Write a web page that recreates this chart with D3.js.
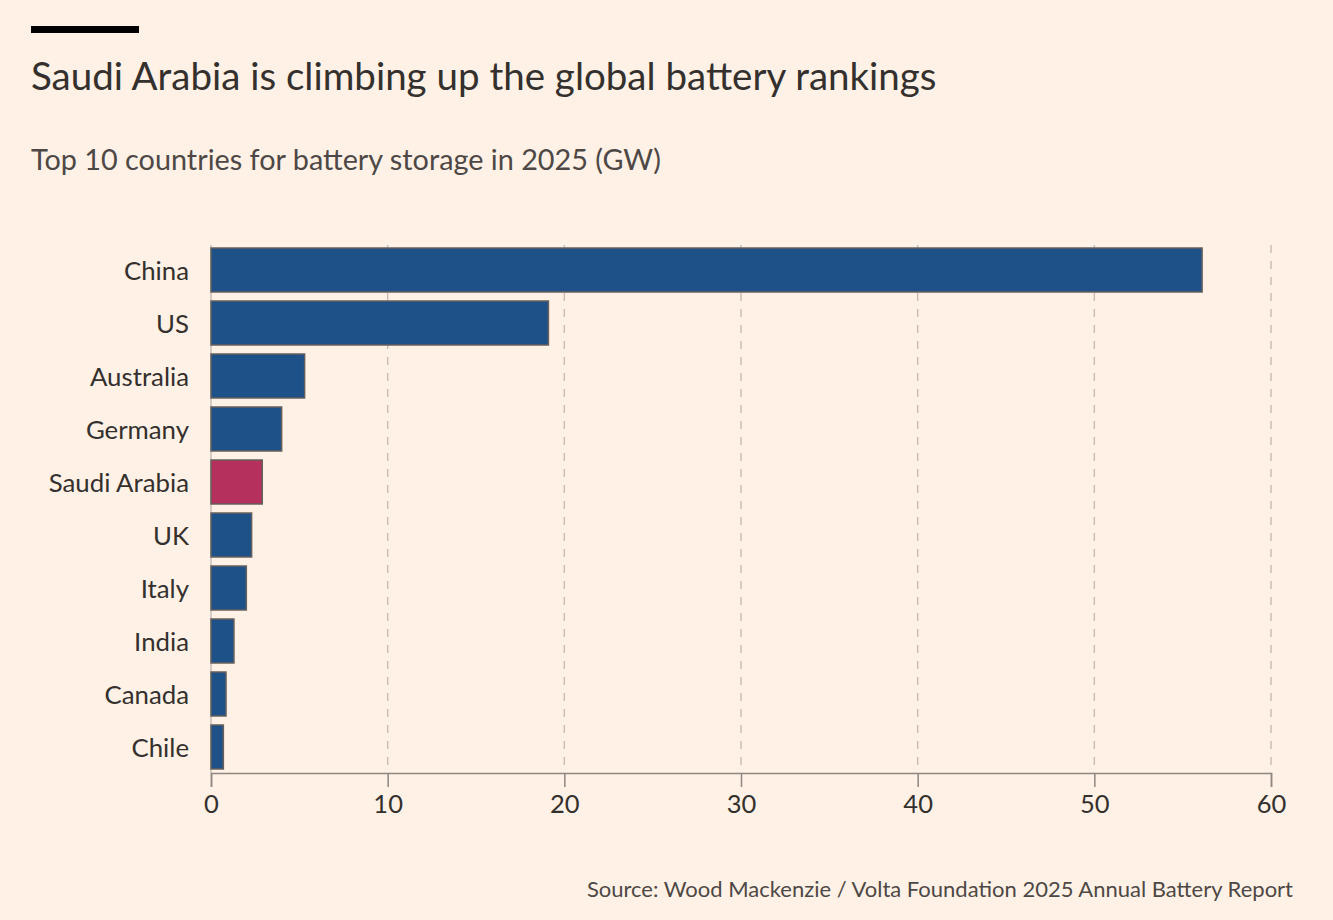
<!DOCTYPE html>
<html><head><meta charset="utf-8">
<script src="https://cdn.jsdelivr.net/npm/d3@7"></script>
<style>
html,body{margin:0;padding:0;background:#FFF1E5;}
svg{display:block;}
text{font-family:Lato,"Open Sans",sans-serif;}
</style></head>
<body><svg id="chart" width="1333" height="920"></svg>
<script>
const countries = ["China","US","Australia","Germany","Saudi Arabia","UK","Italy","India","Canada","Chile"];
const values = [56.1, 19.1, 5.3, 4.0, 2.9, 2.3, 2.0, 1.3, 0.85, 0.7];
const highlight = "Saudi Arabia";
const xTicks = [0,10,20,30,40,50,60];
const titleText = "Saudi Arabia is climbing up the global battery rankings";
const subtitleText = "Top 10 countries for battery storage in 2025 (GW)";
const sourceText = "Source: Wood Mackenzie / Volta Foundation 2025 Annual Battery Report";

const svg = d3.select("#chart");
svg.append("rect").attr("width",1333).attr("height",920).attr("fill","#FFF1E5");

svg.append("rect").attr("x",31).attr("y",26).attr("width",108).attr("height",7).attr("fill","#000");
svg.append("text").attr("x",31).attr("y",90).attr("font-size",38.5).attr("fill","#33302e").text(titleText);
svg.append("text").attr("x",31).attr("y",170).attr("font-size",28.8).attr("fill","#4d4845").text(subtitleText);
svg.append("text").attr("x",1293).attr("y",897).attr("text-anchor","end").attr("font-size",22).attr("fill","#4d4845").text(sourceText);

const x = d3.scaleLinear().domain([0,60]).range([211,1271]);
const y = d3.scaleBand().domain(countries).range([243.5,773.5]).paddingInner(0.17).paddingOuter(0.085);

// grid
svg.append("g").selectAll("line").data(xTicks.filter(d=>d>0)).join("line")
  .attr("x1",d=>x(d)).attr("x2",d=>x(d)).attr("y1",245).attr("y2",773)
  .attr("stroke","#c9bfb6").attr("stroke-width",1.5).attr("stroke-dasharray","8,8");
svg.append("line").attr("x1",x(0)).attr("x2",x(0)).attr("y1",245).attr("y2",773)
  .attr("stroke","#c9bfb6").attr("stroke-width",1.5);

// bars
svg.append("g").selectAll("rect").data(countries).join("rect")
  .attr("x",x(0)).attr("y",d=>y(d))
  .attr("width",(d,i)=>x(values[i])-x(0)).attr("height",y.bandwidth())
  .attr("fill",d=>d===highlight?"#B5305C":"#1F5189")
  .attr("stroke","#66605c").attr("stroke-width",1.5);

// y labels
svg.append("g").selectAll("text").data(countries).join("text")
  .attr("x",189).attr("y",d=>y(d)+y.bandwidth()/2+1).attr("dy","0.36em")
  .attr("text-anchor","end").attr("font-size",25.8).attr("fill","#33302e").text(d=>d);

// x axis
const xAxis = d3.axisBottom(x).tickValues(xTicks).tickSize(14).tickPadding(8);
const ga = svg.append("g").attr("transform","translate(0,773)").call(xAxis);
ga.select(".domain").attr("stroke","#8f8681").attr("stroke-width",1.5);
ga.selectAll(".tick line").attr("stroke","#8f8681").attr("stroke-width",1.5);
ga.selectAll(".tick text").attr("font-size",25.5).attr("fill","#33302e").attr("font-family","Lato,'Open Sans',sans-serif");
</script></body></html>
